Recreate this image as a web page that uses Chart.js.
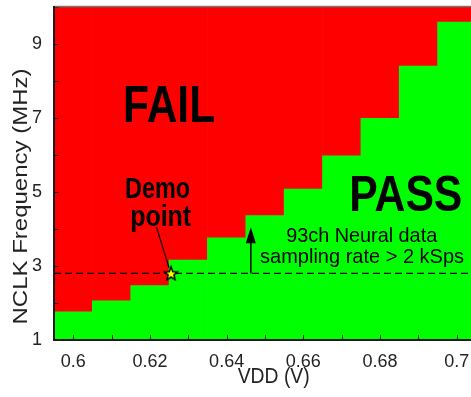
<!DOCTYPE html>
<html><head><meta charset="utf-8">
<script src="https://cdn.jsdelivr.net/npm/chart.js@4/dist/chart.umd.min.js"></script>
<style>html,body{margin:0;padding:0;background:#fff;overflow:hidden}#wrap{position:relative;width:476px;height:397px}</style>
</head><body><div id="wrap"><canvas id="c"></canvas></div>
<script>
// ---- data ----
const vdd = [0.60, 0.61, 0.62, 0.63, 0.64, 0.65, 0.66, 0.67, 0.68, 0.69, 0.70];
const passMaxFreq = [1.76, 2.06, 2.47, 3.16, 3.76, 4.36, 5.08, 5.98, 6.99, 8.40, 9.59];
const xMin = 0.595, xMax = 0.705;
const yMin = 1, yMax = 10;
const xTickValues = [0.60, 0.61, 0.62, 0.63, 0.64, 0.65, 0.66, 0.67, 0.68, 0.69, 0.70];
const xTickLabels = ['0.6', '', '0.62', '', '0.64', '', '0.66', '', '0.68', '', '0.7'];
const yTickValues = [1, 2, 3, 4, 5, 6, 7, 8, 9, 10];
const yTickLabels = ['1', '', '3', '', '5', '', '7', '', '9', ''];
const demoPoint = [{x: 0.6255, y: 2.80}];
const thresholdFreq = 2.80;
const arrowX = 0.6463, arrowTop = 4.05;
const leader = {x1: 0.6217, y1: 4.05, x2: 0.6250, y2: 2.95};
const xTitle = 'VDD (V)';
const yTitle = 'NCLK Frequency (MHz)';
const labels = [
  {text: 'FAIL', x: 0.6250, y: 6.88, font: 'bold 52px "Liberation Sans", Arial, sans-serif', w: 92},
  {text: 'PASS', x: 0.6867, y: 4.49, font: 'bold 50px "Liberation Sans", Arial, sans-serif', w: 113},
  {text: 'Demo', x: 0.6220, y: 4.85, font: 'bold 29px "Liberation Sans", Arial, sans-serif', w: 65},
  {text: 'point', x: 0.6228, y: 4.09, font: 'bold 29px "Liberation Sans", Arial, sans-serif', w: 61},
  {text: '93ch Neural data', x: 0.6752, y: 3.64, font: '21px "Liberation Sans", Arial, sans-serif', w: 151},
  {text: 'sampling rate > 2 kSps', x: 0.6753, y: 3.08, font: '21px "Liberation Sans", Arial, sans-serif', w: 204}
];

function makeStar() {
  const c = document.createElement('canvas');
  c.width = 16; c.height = 16;
  const g = c.getContext('2d');
  g.beginPath();
  for (let i = 0; i < 10; i++) {
    const r = i % 2 ? 3.0 : 7.0;
    const a = -Math.PI / 2 + i * Math.PI / 5;
    g.lineTo(8 + r * Math.cos(a), 8.6 + r * Math.sin(a));
  }
  g.closePath();
  g.fillStyle = '#ffff00'; g.fill();
  g.lineWidth = 1.5; g.strokeStyle = '#000'; g.lineJoin = 'miter'; g.stroke();
  return c;
}

const framePlugin = {
  id: 'frame',
  afterDatasetsDraw(chart) {
    const {ctx, chartArea: a, scales: {x, y}} = chart;
    ctx.save();
    // inward ticks
    ctx.strokeStyle = '#222'; ctx.lineWidth = 1;
    xTickValues.forEach(v => {
      const px = Math.round(x.getPixelForValue(v)) + 0.5;
      ctx.beginPath(); ctx.moveTo(px, a.bottom); ctx.lineTo(px, a.bottom - 5); ctx.stroke();
    });
    yTickValues.forEach(v => {
      const py = Math.round(y.getPixelForValue(v)) + 0.5;
      ctx.beginPath(); ctx.moveTo(a.left, py); ctx.lineTo(a.left + 5, py); ctx.stroke();
    });
    // frame
    ctx.strokeStyle = '#777'; ctx.lineWidth = 1.5;
    ctx.beginPath(); ctx.moveTo(a.left, a.top - 0.5); ctx.lineTo(a.right, a.top - 0.5); ctx.stroke();
    ctx.strokeStyle = '#1a1a1a'; ctx.lineWidth = 2;
    ctx.beginPath(); ctx.moveTo(a.left, a.top - 1); ctx.lineTo(a.left, a.bottom); ctx.lineTo(a.right, a.bottom); ctx.stroke();

    // leader line
    ctx.strokeStyle = '#000'; ctx.lineWidth = 1.2;
    ctx.beginPath();
    ctx.moveTo(x.getPixelForValue(leader.x1), y.getPixelForValue(leader.y1));
    ctx.lineTo(x.getPixelForValue(leader.x2), y.getPixelForValue(leader.y2));
    ctx.stroke();
    // arrow
    const ax = x.getPixelForValue(arrowX);
    const ay0 = y.getPixelForValue(thresholdFreq);
    const ay1 = y.getPixelForValue(arrowTop);
    ctx.lineWidth = 1.5;
    ctx.beginPath(); ctx.moveTo(ax, ay0); ctx.lineTo(ax, ay1 + 12); ctx.stroke();
    ctx.fillStyle = '#000';
    ctx.beginPath(); ctx.moveTo(ax, ay1); ctx.lineTo(ax - 5, ay1 + 16); ctx.lineTo(ax + 5, ay1 + 16); ctx.closePath(); ctx.fill();

    // text labels
    ctx.textAlign = 'center'; ctx.textBaseline = 'alphabetic';
    labels.forEach(l => {
      ctx.font = l.font;
      ctx.fillText(l.text, x.getPixelForValue(l.x), y.getPixelForValue(l.y), l.w);
    });
    ctx.restore();
  },
  afterDraw(chart) {
    const {ctx, chartArea: a} = chart;
    ctx.save();
    ctx.fillStyle = '#222';
    ctx.textAlign = 'center'; ctx.textBaseline = 'alphabetic';
    // x title
    ctx.font = '22px "Liberation Sans", Arial, sans-serif';
    ctx.save(); ctx.translate(a.left + 219.7, 382.7); ctx.scale(0.88, 1); ctx.fillText(xTitle, 0, 0); ctx.restore();
    // y title
    ctx.font = '24px "Liberation Sans", Arial, sans-serif';
    ctx.save(); ctx.translate(26.7, a.top + 189.5); ctx.rotate(-Math.PI / 2); ctx.scale(1, 0.88); ctx.fillText(yTitle, 0, 0); ctx.restore();
    ctx.restore();
  }
};

const star = makeStar();
const noPad = s => { s.paddingLeft = 0; s.paddingRight = 0; s.paddingTop = 0; s.paddingBottom = 0; };

new Chart(document.getElementById('c'), {
  type: 'bar',
  data: {
    datasets: [
      {type: 'scatter', data: demoPoint, pointStyle: star, pointRadius: 8, order: 0},
      {type: 'line', data: [{x: xMin, y: thresholdFreq}, {x: xMax, y: thresholdFreq}],
        borderColor: '#000', borderWidth: 1.3, borderDash: [7, 4], pointRadius: 0, order: 1},
      {data: vdd.map((v, i) => ({x: v, y: [yMin, passMaxFreq[i]]})), backgroundColor: '#00ff00',
        borderWidth: 0, barPercentage: 1, categoryPercentage: 1, grouped: false, order: 2},
      {data: vdd.map((v, i) => ({x: v, y: [passMaxFreq[i], yMax]})), backgroundColor: '#ff0000',
        borderWidth: 0, barPercentage: 1, categoryPercentage: 1, grouped: false, order: 3}
    ]
  },
  options: {
    responsive: true, maintainAspectRatio: false, animation: false,
    layout: {autoPadding: false, padding: {top: 7, right: 0, left: 0, bottom: 0}},
    plugins: {legend: {display: false}, tooltip: {enabled: false}},
    scales: {
      x: {
        type: 'linear', min: xMin, max: xMax, offset: false,
        grid: {display: false}, border: {display: false},
        afterBuildTicks: s => { s.ticks = xTickValues.map(v => ({value: v})); },
        afterFit: s => { s.height = 57; noPad(s); },
        ticks: {autoSkip: false, maxRotation: 0, padding: 3, color: '#222',
          font: {family: '"Liberation Sans", Arial, sans-serif', size: 18},
          callback: (v, i) => xTickLabels[i]}
      },
      y: {
        type: 'linear', min: yMin, max: yMax,
        grid: {display: false}, border: {display: false},
        afterBuildTicks: s => { s.ticks = yTickValues.map(v => ({value: v})); },
        afterFit: s => { s.width = 54; noPad(s); },
        ticks: {autoSkip: false, padding: 4, color: '#222',
          font: {family: '"Liberation Sans", Arial, sans-serif', size: 18},
          callback: (v, i) => yTickLabels[i]}
      }
    }
  },
  plugins: [framePlugin]
});
</script>
</body></html>
